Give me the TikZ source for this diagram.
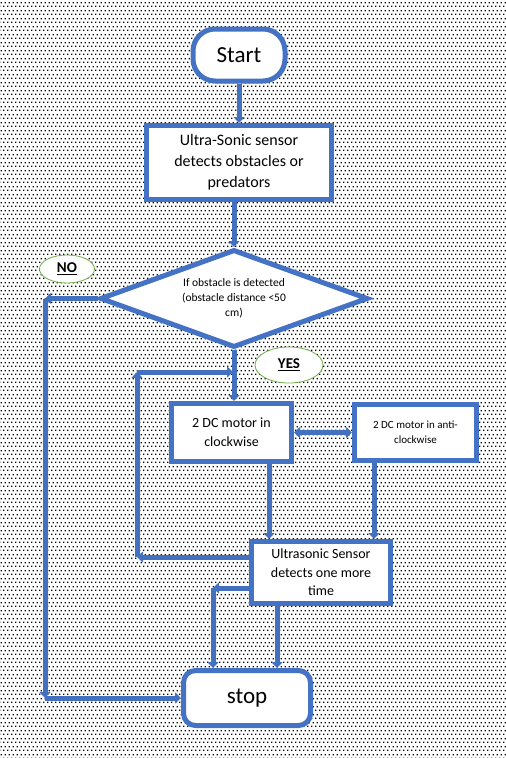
\documentclass[tikz,border=0pt]{standalone}
\usepackage{fontspec}
\setmainfont{Carlito}
\usetikzlibrary{arrows.meta,shapes.geometric,patterns}
\definecolor{oblue}{HTML}{4472C4}
\definecolor{cblue}{HTML}{4470C0}
\definecolor{ogreen}{HTML}{70AD47}
\pgfdeclarepatternformonly{mydots}{\pgfqpoint{0pt}{0pt}}{\pgfqpoint{4pt}{8pt}}{\pgfqpoint{4pt}{8pt}}{%
  \pgfpathrectangle{\pgfqpoint{0pt}{0pt}}{\pgfqpoint{1.6pt}{1.6pt}}%
  \pgfpathrectangle{\pgfqpoint{2pt}{4pt}}{\pgfqpoint{1.6pt}{1.6pt}}%
  \pgfusepath{fill}}
\tikzset{
  box/.style={draw=oblue, line width=5pt, fill=white, inner sep=2pt, align=center},
  conn/.style={draw=cblue, line width=5pt, -{Triangle[width=11pt,length=6pt]}},
  dconn/.style={draw=cblue, line width=5pt, {Triangle[width=11pt,length=6pt]}-{Triangle[width=11pt,length=6pt]}},
  lab/.style={draw=ogreen, line width=0.8pt, ellipse, fill=white, inner sep=0pt, font=\bfseries\fontsize{15}{18}\selectfont},
}
\begin{document}
\begin{tikzpicture}[x=1pt,y=-1pt]
\useasboundingbox (0,0) rectangle (506,758);
\fill[white] (0,0) rectangle (506,758);
\fill[pattern=mydots, pattern color=black] (0,0) rectangle (506,758);

\node[box, rounded corners=22pt, minimum width=92pt, minimum height=52pt,
      font=\fontsize{23}{27}\selectfont] (start) at (239,55) {Start};
\node[box, minimum width=185pt, minimum height=74pt,
      font=\fontsize{16}{21}\selectfont] (box1) at (239,162.5)
      {Ultra-Sonic sensor\\detects obstacles or\\predators};
\node[box, diamond, aspect=2.7, minimum width=268pt, minimum height=98pt, inner sep=0pt,
      font=\fontsize{11.5}{15}\selectfont] (dec) at (234,298.5)
      {If obstacle is detected\\(obstacle distance <50\\cm)};
\node[box, minimum width=120pt, minimum height=58pt,
      font=\fontsize{14}{19}\selectfont] (box2) at (231.5,432.5)
      {2 DC motor in\\clockwise};
\node[box, minimum width=122pt, minimum height=56pt,
      font=\fontsize{11}{15}\selectfont] (box3) at (415.5,432.5)
      {2 DC motor in anti-\\clockwise};
\node[box, minimum width=139pt, minimum height=62pt,
      font=\fontsize{14}{18.5}\selectfont] (box4) at (321,572.5)
      {Ultrasonic Sensor\\detects one more\\time};
\node[box, rounded corners=12pt, minimum width=127pt, minimum height=55pt,
      font=\fontsize{23}{27}\selectfont] (stop) at (247,698) {stop};

\node[lab, minimum width=55pt, minimum height=28pt] (no) at (67,269) {\underline{NO}};
\node[lab, minimum width=68pt, minimum height=36pt] (yes) at (289,365) {\underline{YES}};

\coordinate (nA) at (45,298.5);
\coordinate (nB) at (45,698);
\coordinate (lA) at (137,557);
\coordinate (lB) at (137,372);
\coordinate (lC) at (233,372);
\coordinate (sA) at (213,588);

\draw[conn] (start) -- (box1);
\draw[conn] (box1.south -| dec) -- (dec.north);
\draw[conn] (dec.south) -- (dec.south |- box2.north);
\draw[conn] (dec.west) -- (nA);
\draw[conn] (nA) -- (nB);
\draw[conn] (nB) -- (stop.west);
\draw[conn] (lA -| box4.west) -- (lA);
\draw[conn] (lA) -- (lB);
\draw[conn] (lB) -- (lC);
\draw[dconn] (box2.east) -- (box3.west);
\draw[conn] ([xshift=37.5pt]box2.south) -- ([xshift=37.5pt]box2.south |- box4.north);
\draw[conn] ([xshift=-41.5pt]box3.south) -- ([xshift=-41.5pt]box3.south |- box4.north);
\draw[conn] ([xshift=-44pt]box4.south) -- ([xshift=-44pt]box4.south |- stop.north);
\draw[conn] (sA -| box4.west) -- (sA);
\draw[conn] (sA) -- (sA |- stop.north);
\end{tikzpicture}
\end{document}
